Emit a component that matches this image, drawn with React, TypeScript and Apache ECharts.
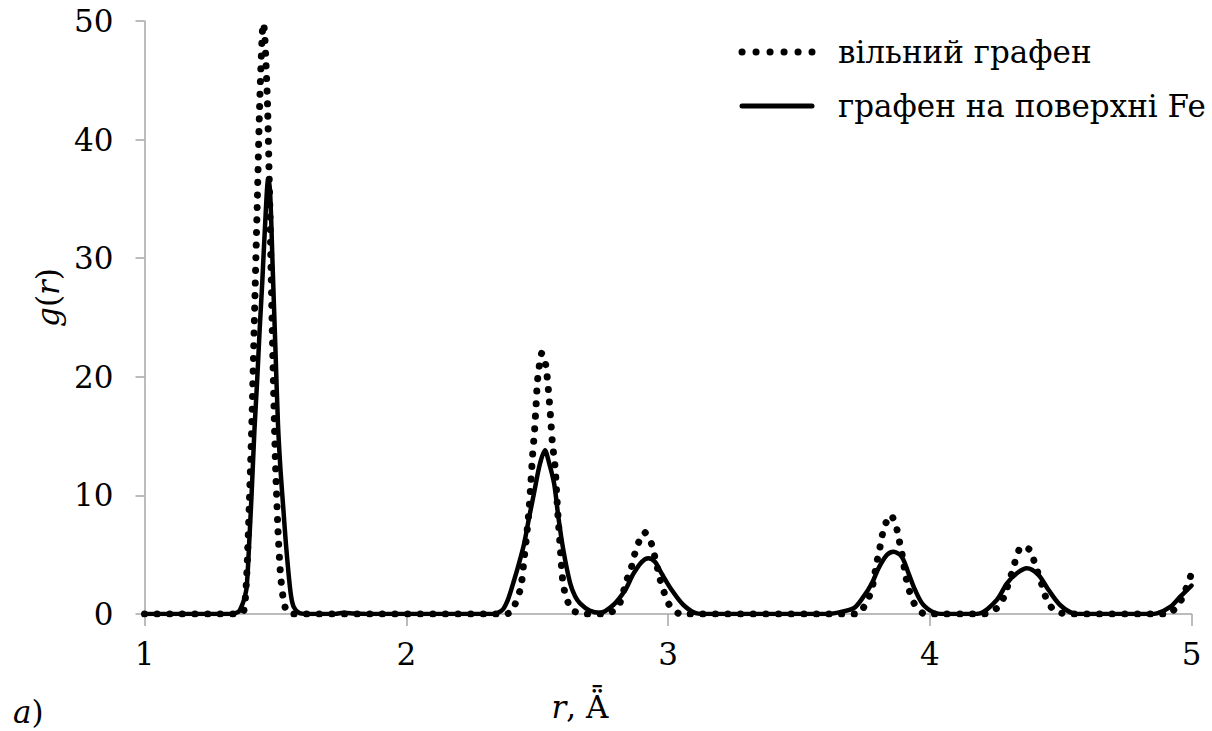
import React, { useEffect, useRef } from "react";
import * as echarts from "echarts";

const FONT = "DejaVu Serif";
const FS = 31;

// вільний графен (dotted)
const rFree = [
  1.0, 1.36, 1.38, 1.39, 1.4, 1.41, 1.42, 1.43, 1.44, 1.45, 1.455, 1.46, 1.47, 1.48, 1.49, 1.5, 1.51, 1.52, 1.53, 1.54, 1.56,
  2.38, 2.403, 2.4375, 2.449, 2.46, 2.469, 2.476, 2.482, 2.49, 2.496, 2.502, 2.518, 2.533, 2.543, 2.551, 2.558, 2.569, 2.575, 2.581, 2.588, 2.595, 2.6, 2.613, 2.632, 2.68,
  2.76, 2.779, 2.8, 2.814, 2.843, 2.859, 2.872, 2.887, 2.91, 2.934, 2.947, 2.97, 2.985, 3.004, 3.04, 3.06,
  3.72, 3.737, 3.763, 3.779, 3.798, 3.808, 3.817, 3.83, 3.852, 3.872, 3.883, 3.893, 3.91, 3.922, 3.94, 3.974, 4.0,
  4.2, 4.222, 4.263, 4.284, 4.301, 4.316, 4.33, 4.349, 4.384, 4.4, 4.431, 4.447, 4.476, 4.524,
  4.9, 4.919, 4.954, 4.975, 5.0,
];
const gFree = [
  0, 0, 0.3, 3, 9, 16, 25, 34, 43, 49, 49.8, 48.5, 43, 33, 22, 13, 7, 3.2, 1.3, 0.4, 0,
  0, 0.2, 2.2, 4.4, 6.6, 8.8, 11, 13.2, 15.4, 17.6, 19.8, 22, 21, 18.9, 16.7, 14.5, 12.3, 10, 7.8, 5.7, 3.5, 2.4, 1.3, 0.34, 0,
  0, 0.1, 0.4, 0.76, 2.9, 3.85, 5.0, 6.0, 6.9, 6.1, 5.06, 2.9, 1.83, 0.8, 0.05, 0,
  0, 0.2, 1.18, 2.1, 4.4, 5.4, 6.5, 7.56, 8.35, 7.36, 6.24, 5.17, 3.0, 1.97, 0.9, 0.05, 0,
  0, 0.05, 0.6, 1.46, 2.59, 3.65, 4.7, 5.68, 5.4, 4.36, 2.3, 1.18, 0.28, 0,
  0, 0.05, 0.9, 1.9, 3.4,
];

// графен на поверхні Fe (solid)
const rFe = [
  1.0, 1.33, 1.36, 1.37, 1.38, 1.39, 1.4, 1.41, 1.42, 1.43, 1.44, 1.45, 1.46, 1.473, 1.48, 1.49, 1.5, 1.51, 1.52, 1.53, 1.54, 1.55, 1.56, 1.57, 1.59, 1.62,
  1.72, 1.76, 1.8, 1.85,
  2.33, 2.35, 2.37, 2.39, 2.41, 2.43, 2.45, 2.47, 2.49, 2.51, 2.53, 2.545, 2.565, 2.581, 2.6, 2.626, 2.645, 2.664, 2.7, 2.74,
  2.791, 2.836, 2.868, 2.9, 2.925, 2.95, 2.976, 3.015, 3.059, 3.11, 3.15,
  3.6, 3.632, 3.709, 3.747, 3.779, 3.804, 3.836, 3.861, 3.893, 3.919, 3.944, 3.976, 4.027, 4.06,
  4.16, 4.192, 4.256, 4.295, 4.333, 4.371, 4.415, 4.454, 4.498, 4.549, 4.58,
  4.84, 4.868, 4.919, 4.957, 5.0,
];
const gFe = [
  0, 0, 0.2, 0.6, 1.2, 2.2, 6, 10.5, 15.5, 19.5, 24, 28, 32.5, 36.7, 35.5, 29, 22.5, 16, 12, 9, 6, 3.5, 1.5, 0.6, 0.1, 0,
  0, 0.1, 0.05, 0,
  0, 0.1, 0.4, 1.3, 2.7, 4.2, 5.9, 8.2, 10.4, 12.6, 13.8, 12.8, 11, 8.2, 5.4, 2.6, 1.5, 0.9, 0.3, 0.1,
  0.76, 2.0, 3.4, 4.4, 4.7, 4.4, 3.4, 2.0, 0.76, 0.05, 0,
  0, 0.05, 0.48, 1.46, 2.59, 3.85, 4.97, 5.25, 4.83, 3.43, 2.02, 0.76, 0.05, 0,
  0, 0.05, 1.18, 2.59, 3.43, 3.85, 3.3, 2.02, 0.76, 0.05, 0,
  0, 0.05, 0.6, 1.46, 2.4,
];

const seriesNames = ["вільний графен", "графен на поверхні Fe"];
const xTicks = { min: 1, max: 5, interval: 1 };
const yTicks = { min: 0, max: 50, interval: 10 };

export default function App() {
  const ref = useRef<HTMLDivElement>(null);
  useEffect(() => {
    if (!ref.current) return;
    const chart = echarts.init(ref.current, null, { renderer: "svg" });
    const freeData = rFree.map((r, i) => [r, gFree[i]]);
    const feData = rFe.map((r, i) => [r, gFe[i]]);
    const axisGray = "#a6a6a6";
    const italic = { fontStyle: "italic", fontFamily: FONT, fontSize: FS, color: "#000" };
    const legendRow = (y: number, idx: number, dotted: boolean) => [
      {
        type: "line",
        shape: { x1: 742, y1: y, x2: 812, y2: y },
        style: dotted
          ? { stroke: "#000", lineWidth: 7, lineDash: [0.1, 13.9], lineCap: "round" }
          : { stroke: "#000", lineWidth: 5, lineCap: "round" },
      },
      {
        type: "text",
        x: 838,
        y,
        style: {
          text: seriesNames[idx],
          fontFamily: FONT,
          fontSize: FS,
          fill: "#000",
          verticalAlign: "middle",
          align: "left",
        },
      },
    ];
    chart.setOption({
      animation: false,
      backgroundColor: "#fff",
      textStyle: { fontFamily: FONT },
      grid: { left: 144.5, right: 20.5, top: 21, bottom: 117, containLabel: false },
      xAxis: {
        type: "value",
        min: xTicks.min,
        max: xTicks.max,
        interval: xTicks.interval,
        name: "{i|r}, Ǟ",
        nameLocation: "middle",
        nameGap: 77,
        nameTextStyle: {
          fontFamily: FONT,
          fontSize: FS,
          color: "#000",
          padding: [0, 176, 0, 0],
          rich: { i: italic },
        },
        axisLine: { show: true, onZero: false, lineStyle: { color: axisGray, width: 1.5 } },
        axisTick: { show: true, inside: false, length: 12, lineStyle: { color: axisGray, width: 1.5 } },
        axisLabel: { fontFamily: FONT, fontSize: FS, color: "#000", margin: 24 },
        splitLine: { show: false },
      },
      yAxis: {
        type: "value",
        min: yTicks.min,
        max: yTicks.max,
        interval: yTicks.interval,
        name: "{i|g}({i|r})",
        nameLocation: "middle",
        nameGap: 71,
        nameRotate: 90,
        nameTextStyle: {
          fontFamily: FONT,
          fontSize: FS,
          color: "#000",
          padding: [0, 0, 0, 40],
          rich: { i: italic },
        },
        axisLine: { show: true, lineStyle: { color: axisGray, width: 1.5 } },
        axisTick: { show: true, inside: false, length: 9, lineStyle: { color: axisGray, width: 1.5 } },
        axisLabel: { fontFamily: FONT, fontSize: FS, color: "#000", margin: 31 },
        splitLine: { show: false },
      },
      graphic: [
        ...legendRow(52, 0, true),
        ...legendRow(106, 1, false),
        {
          type: "text",
          x: 13,
          y: 712,
          style: {
            text: "{i|a})",
            rich: { i: { fontStyle: "italic", fontFamily: FONT, fontSize: FS, fill: "#000", lineHeight: 32 } },
            fontFamily: FONT,
            fontSize: FS,
            lineHeight: 32,
            fill: "#000",
            verticalAlign: "middle",
          },
        },
      ],
      series: [
        {
          name: seriesNames[0],
          type: "line",
          data: freeData,
          showSymbol: false,
          symbol: "none",
          smooth: 0.2,
          clip: true,
          color: "#000",
          lineStyle: { color: "#000", width: 7, type: [0.1, 12.5], cap: "round" },
          z: 2,
        },
        {
          name: seriesNames[1],
          type: "line",
          data: feData,
          showSymbol: false,
          symbol: "none",
          smooth: 0.3,
          clip: true,
          color: "#000",
          lineStyle: { color: "#000", width: 4.5, type: "solid", cap: "round", join: "round" },
          z: 3,
        },
      ],
    });
    return () => chart.dispose();
  }, []);
  return <div ref={ref} style={{ position: "fixed", left: 0, top: 0, width: 1212, height: 731 }} />;
}
